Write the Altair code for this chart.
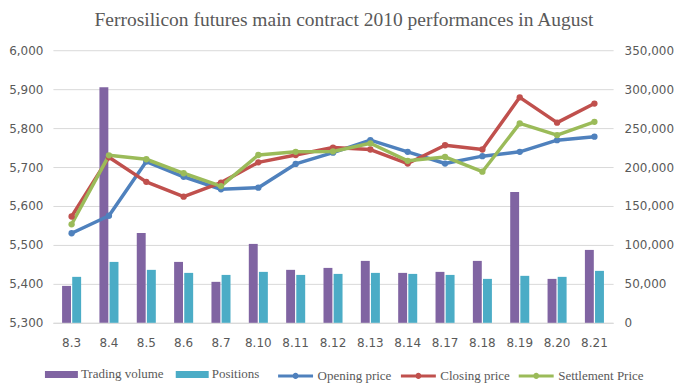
import altair as alt
import pandas as pd

dates = ["8.3", "8.4", "8.5", "8.6", "8.7", "8.10", "8.11", "8.12",
         "8.13", "8.14", "8.17", "8.18", "8.19", "8.20", "8.21"]
trading_volume = [47400, 302500, 115400, 78200, 52600, 101300, 68000, 70500,
                  79500, 64100, 65400, 79500, 168000, 56400, 93600]
positions = [59000, 78200, 68000, 64100, 61500, 65400, 61500, 62800,
             64100, 62800, 61500, 56400, 60300, 59000, 66700]
opening_price = [5530, 5575, 5714, 5675, 5643, 5647, 5708, 5737,
                 5769, 5739, 5709, 5728, 5739, 5769, 5778]
closing_price = [5573, 5725, 5662, 5624, 5660, 5712, 5731, 5750,
                 5745, 5709, 5756, 5745, 5879, 5814, 5863]
settlement_price = [5553, 5730, 5720, 5684, 5651, 5731, 5739, 5740,
                    5761, 5716, 5726, 5688, 5812, 5782, 5816]

bar_series = ["Trading volume", "Positions"]
bar_colors = ["#8064A2", "#4BACC6"]
line_series = ["Opening price", "Closing price", "Settlement Price"]
line_colors = ["#4F81BD", "#C0504D", "#9BBB59"]
left_ticks = [5300, 5400, 5500, 5600, 5700, 5800, 5900, 6000]
right_ticks = [0, 50000, 100000, 150000, 200000, 250000, 300000, 350000]
title_text = "Ferrosilicon futures main contract 2010 performances in August"

bars_df = pd.DataFrame({
    "date": dates * 2,
    "series": [bar_series[0]] * len(dates) + [bar_series[1]] * len(dates),
    "value": trading_volume + positions,
})
lines_df = pd.DataFrame({
    "date": dates * 3,
    "series": sum([[s] * len(dates) for s in line_series], []),
    "price": opening_price + closing_price + settlement_price,
})

TEXT = "#595959"
GRID = "#D9D9D9"

x_enc = alt.X(
    "date:N", sort=dates,
    scale=alt.Scale(paddingInner=0.49, paddingOuter=0.245),
    axis=alt.Axis(title=None, labelAngle=0, ticks=False, grid=False,
                  domainColor=GRID, domainWidth=1,
                  labelFont="DejaVu Sans", labelFontSize=12,
                  labelColor=TEXT, labelPadding=15),
)

bars = alt.Chart(bars_df).mark_bar().encode(
    x=x_enc,
    xOffset=alt.XOffset("series:N", sort=bar_series,
                        scale=alt.Scale(paddingInner=0.12)),
    y=alt.Y("value:Q",
            scale=alt.Scale(domain=[0, 350000], nice=False, zero=True),
            axis=alt.Axis(orient="right", values=right_ticks, format=",d",
                          grid=False, domain=False, ticks=False, title=None,
                          labelFont="DejaVu Sans", labelFontSize=12,
                          labelColor=TEXT, labelPadding=11)),
    color=alt.Color("series:N", sort=bar_series,
                    scale=alt.Scale(domain=bar_series, range=bar_colors),
                    legend=alt.Legend(
                        title=None, orient="none", direction="horizontal",
                        columns=2, legendX=-8, legendY=308,
                        symbolType="M-1,-0.21 L1,-0.21 L1,0.21 L-1,0.21 Z",
                        symbolSize=1089, symbolStrokeWidth=0,
                        labelFont="Liberation Serif", labelFontSize=13,
                        labelColor=TEXT, labelOffset=3, columnPadding=12,
                        padding=0)),
)

lines = alt.Chart(lines_df).mark_line(
    strokeWidth=3.5, strokeJoin="round", strokeCap="round",
    point=alt.OverlayMarkDef(filled=True, size=40),
).encode(
    x=x_enc,
    y=alt.Y("price:Q",
            scale=alt.Scale(domain=[5300, 6000], nice=False, zero=False),
            axis=alt.Axis(orient="left", values=left_ticks, format=",d",
                          grid=True, gridColor=GRID, gridWidth=1,
                          domain=False, ticks=False, title=None,
                          labelFont="DejaVu Sans", labelFontSize=12,
                          labelColor=TEXT, labelPadding=10)),
    color=alt.Color("series:N", sort=line_series,
                    scale=alt.Scale(domain=line_series, range=line_colors),
                    legend=alt.Legend(
                        title=None, orient="none", direction="horizontal",
                        columns=3, legendX=224, legendY=307,
                        symbolType="M-1,0 L1,0 M-0.09,0 A0.09,0.09 0 1 0 0.09,0 A0.09,0.09 0 1 0 -0.09,0",
                        symbolSize=1225, symbolStrokeWidth=3,
                        labelFont="Liberation Serif", labelFontSize=13,
                        labelColor=TEXT, labelOffset=3, columnPadding=2,
                        padding=0)),
)

chart = alt.layer(bars, lines).resolve_scale(
    y="independent", color="independent"
).properties(
    width=561, height=273,
    title=alt.TitleParams(text=title_text, font="Liberation Serif",
                          fontSize=19.5, fontWeight="normal", color=TEXT,
                          anchor="middle", frame="group", offset=14, dx=11),
    autosize=alt.AutoSizeParams(type="none"),
    padding={"left": 45, "top": 42, "right": 62, "bottom": 60},
).configure_view(stroke=None)

chart.save("out.html", embed_options={"renderer": "svg", "actions": False})
